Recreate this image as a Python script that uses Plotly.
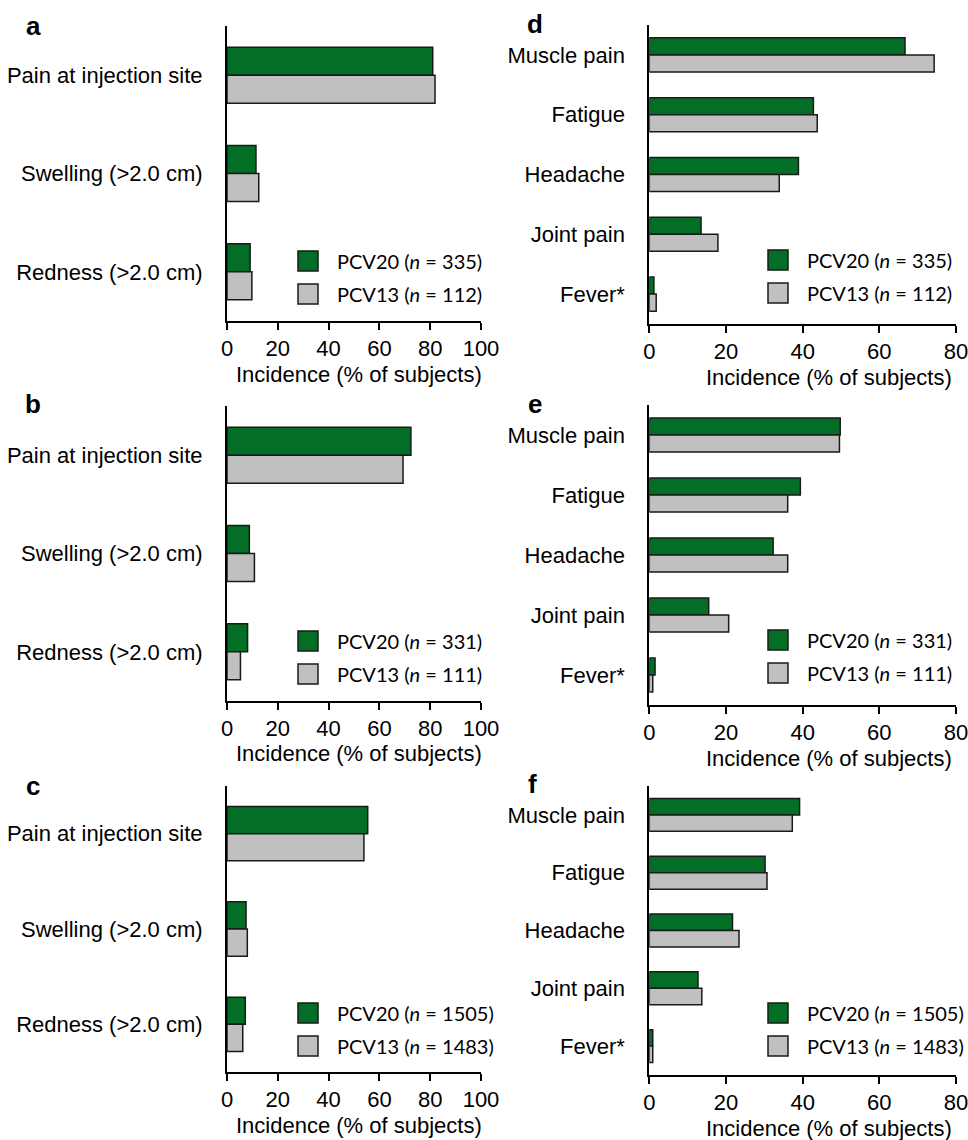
import plotly.graph_objects as go

W, H = 968, 1140

# ---- data -------------------------------------------------------------
local_cats = ["Pain at injection site", "Swelling (>2.0 cm)", "Redness (>2.0 cm)"]
systemic_cats = ["Muscle pain", "Fatigue", "Headache", "Joint pain", "Fever*"]

a_pcv20 = [81.0, 11.4, 9.1]
a_pcv13 = [81.9, 12.5, 9.8]
b_pcv20 = [72.4, 8.8, 8.1]
b_pcv13 = [69.3, 10.8, 5.3]
c_pcv20 = [55.4, 7.5, 7.2]
c_pcv13 = [53.9, 8.0, 6.2]

d_pcv20 = [66.7, 42.8, 38.9, 13.5, 1.2]
d_pcv13 = [74.3, 43.8, 33.9, 17.9, 1.8]
e_pcv20 = [49.8, 39.4, 32.3, 15.5, 1.5]
e_pcv13 = [49.6, 36.1, 36.1, 20.7, 0.9]
f_pcv20 = [39.2, 30.2, 21.7, 12.7, 0.9]
f_pcv13 = [37.3, 30.7, 23.4, 13.7, 0.9]

n_pcv20 = [335, 331, 1505]
n_pcv13 = [112, 111, 1483]

local_ticks = [0, 20, 40, 60, 80, 100]
systemic_ticks = [0, 20, 40, 60, 80]

# ---- styling ----------------------------------------------------------
GREEN = "#036e26"
GREY = "#c0c0c0"
EDGE = "#1a1a1a"
ARIAL = "Liberation Sans, Arial, sans-serif"
LEGEND_FONT = "Lato, Carlito, sans-serif"


def px(x):
    return x / W


def py(y):
    return 1 - y / H


# panel layout in page pixels: (x_left, x_right, y_top, y_bottom)
panels = [
    dict(letter="a", cats=local_cats, v20=a_pcv20, v13=a_pcv13, n=0, ticks=local_ticks,
         box=(227, 481, 26, 321), letter_xy=(33, 26), leg=(298, 251)),
    dict(letter="b", cats=local_cats, v20=b_pcv20, v13=b_pcv13, n=1, ticks=local_ticks,
         box=(227, 481, 406, 701), letter_xy=(33, 404), leg=(298, 631)),
    dict(letter="c", cats=local_cats, v20=c_pcv20, v13=c_pcv13, n=2, ticks=local_ticks,
         box=(227, 481, 786, 1072), letter_xy=(33, 786), leg=(298, 1003)),
    dict(letter="d", cats=systemic_cats, v20=d_pcv20, v13=d_pcv13, n=0, ticks=systemic_ticks,
         box=(649.3, 956, 25, 324), letter_xy=(535, 24), leg=(768, 250)),
    dict(letter="e", cats=systemic_cats, v20=e_pcv20, v13=e_pcv13, n=1, ticks=systemic_ticks,
         box=(649.3, 956, 405, 705), letter_xy=(535, 404), leg=(768, 630)),
    dict(letter="f", cats=systemic_cats, v20=f_pcv20, v13=f_pcv13, n=2, ticks=systemic_ticks,
         box=(649.3, 956, 786, 1075), letter_xy=(532, 784), leg=(768, 1003)),
]

fig = go.Figure()
layout = {}
shapes = []
annotations = []

for i, p in enumerate(panels):
    k = "" if i == 0 else str(i + 1)
    xa, ya = "x" + k, "y" + k
    x0, x1, y0, y1 = p["box"]

    fig.add_trace(go.Bar(
        x=p["v20"], y=p["cats"], orientation="h", xaxis=xa, yaxis=ya,
        marker=dict(color=GREEN, line=dict(color=EDGE, width=1.5)),
        offsetgroup="pcv20", showlegend=False, hoverinfo="x+y"))
    fig.add_trace(go.Bar(
        x=p["v13"], y=p["cats"], orientation="h", xaxis=xa, yaxis=ya,
        marker=dict(color=GREY, line=dict(color=EDGE, width=1.5)),
        offsetgroup="pcv13", showlegend=False, hoverinfo="x+y"))

    ncat = len(p["cats"])
    xmax = p["ticks"][-1]
    layout["xaxis" + k] = dict(
        domain=[px(x0), px(x1)], anchor=ya, range=[0, xmax], automargin=False,
        tickvals=p["ticks"], ticks="outside", ticklen=7, tickwidth=1.5,
        tickcolor="black", showline=True, linecolor="black", linewidth=2,
        showgrid=False, zeroline=False, fixedrange=True,
        ticklabeloverflow="allow",
        tickfont=dict(family=ARIAL, size=22, color="black"))
    layout["yaxis" + k] = dict(
        domain=[py(y1), py(y0)], anchor=xa, type="category", automargin=False,
        categoryorder="array", categoryarray=p["cats"],
        range=[ncat - 0.5, -0.5], showline=True, linecolor="black",
        linewidth=2, showgrid=False, zeroline=False, ticks="",
        ticklabelstandoff=18, fixedrange=True,
        tickfont=dict(family=ARIAL, size=22, color="black"))

    # axis title
    annotations.append(dict(
        text="Incidence (% of subjects)", xref="paper", yref="paper",
        x=px((x0 + x1) / 2 + (5 if x0 < 400 else 26)), y=py(y1 + 53),
        xanchor="center", yanchor="middle", showarrow=False,
        font=dict(family=ARIAL, size=22, color="black")))

    # panel letter
    lx, ly = p["letter_xy"]
    annotations.append(dict(
        text="<b>%s</b>" % p["letter"], xref="paper", yref="paper",
        x=px(lx), y=py(ly), xanchor="center", yanchor="middle",
        showarrow=False, font=dict(family=ARIAL, size=26, color="black")))

    # legend swatches and labels
    bx, by = p["leg"]
    size, gap = 20, 13
    labels = [("PCV20", n_pcv20[p["n"]], GREEN), ("PCV13", n_pcv13[p["n"]], GREY)]
    for j, (name, n, col) in enumerate(labels):
        top = by + j * (size + gap)
        shapes.append(dict(
            type="rect", xref="paper", yref="paper",
            x0=px(bx), x1=px(bx + size), y0=py(top + size), y1=py(top),
            fillcolor=col, line=dict(color=EDGE, width=1.5)))
        annotations.append(dict(
            text="%s (<i>n</i> = %d)" % (name, n), xref="paper", yref="paper",
            x=px(bx + size + 17), y=py(top + size / 2), xanchor="left",
            yanchor="middle", showarrow=False,
            font=dict(family=LEGEND_FONT, size=20, color="black")))

fig.update_layout(
    width=W, height=H, margin=dict(l=0, r=0, t=0, b=0, autoexpand=False),
    paper_bgcolor="white", plot_bgcolor="white",
    barmode="group", bargap=0.43, bargroupgap=0,
    shapes=shapes, annotations=annotations, **layout)

fig.write_html("out.html")
